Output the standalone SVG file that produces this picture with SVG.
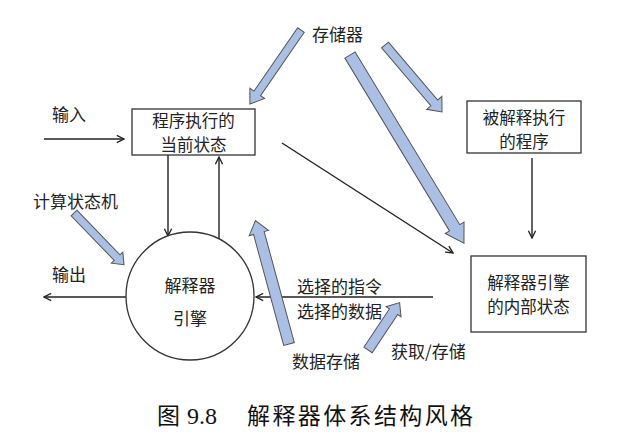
<svg xmlns="http://www.w3.org/2000/svg" width="629" height="438" viewBox="0 0 629 438">
<style>
.t{font-family:"Noto Sans CJK SC","Noto Sans",sans-serif;font-size:17px;fill:#222}
.b{font-size:16.5px}
.c{text-anchor:middle}
.box{fill:#fff;stroke:#333;stroke-width:1.3}
.ln{fill:none;stroke:#222;stroke-width:1.4}
.blk{fill:#a9c0e4;stroke:#555;stroke-width:1}
.cap{font-family:"Noto Sans CJK SC",sans-serif;font-size:23px;fill:#111}
</style>
<defs>
<marker id="ah" viewBox="0 0 10 10" refX="9" refY="5" markerWidth="9" markerHeight="9" markerUnits="userSpaceOnUse" orient="auto">
<path d="M1,1 L9,5 L1,9" fill="none" stroke="#222" stroke-width="1.5"/>
</marker>
</defs>
<g id="connectors">
<line class="ln" x1="44" y1="139" x2="124" y2="139" marker-end="url(#ah)"/>
<line class="ln" x1="168" y1="155" x2="168" y2="236" marker-end="url(#ah)"/>
<line class="ln" x1="219" y1="239" x2="219" y2="157" marker-end="url(#ah)"/>
<line class="ln" x1="126" y1="297" x2="44" y2="297" marker-end="url(#ah)"/>
<line class="ln" x1="282" y1="143" x2="453" y2="253" marker-end="url(#ah)"/>
<line class="ln" x1="532" y1="158" x2="532" y2="238" marker-end="url(#ah)"/>
<line class="ln" x1="433" y1="297" x2="256" y2="297" marker-end="url(#ah)"/>
<path class="blk" transform="translate(301,30) rotate(124.6)" d="M0,-4 L77,-4 L77,-9 L90,0 L77,9 L77,4 L0,4 Z"/>
<path class="blk" transform="translate(350,55) rotate(58.8)" d="M0,-6 L202,-6 L202,-11 L220,0 L202,11 L202,6 L0,6 Z"/>
<path class="blk" transform="translate(385,45) rotate(49.6)" d="M0,-4.5 L76,-4.5 L76,-10 L88,0 L76,10 L76,4.5 L0,4.5 Z"/>
<path class="blk" transform="translate(74,213) rotate(46)" d="M0,-4 L62,-4 L62,-8 L72,0 L62,8 L62,4 L0,4 Z"/>
<path class="blk" transform="translate(289,344) rotate(-105.2)" d="M0,-5.5 L115,-5.5 L115,-10 L128,0 L115,10 L115,5.5 L0,5.5 Z"/>
<path class="blk" transform="translate(368,350) rotate(-56.3)" d="M0,-5 L46,-5 L46,-9 L57,0 L46,9 L46,5 L0,5 Z"/>
</g>
<g id="current-state">
<rect class="box" x="132" y="109" width="123" height="46"/>
<text class="t b c" x="193.5" y="127">程序执行的</text>
<text class="t b c" x="193.5" y="151">当前状态</text>
</g>
<g id="program">
<rect class="box" x="467" y="101" width="114" height="52"/>
<text class="t b c" x="524" y="124">被解释执行</text>
<text class="t b c" x="524" y="148">的程序</text>
</g>
<g id="internal-state">
<rect class="box" x="471" y="256" width="115" height="76"/>
<text class="t b c" x="528.5" y="289">解释器引擎</text>
<text class="t b c" x="528.5" y="313">的内部状态</text>
</g>
<g id="engine">
<circle cx="190" cy="296" r="64" fill="#fff" stroke="#333" stroke-width="1.3"/>
<text class="t c" x="190" y="292">解释器</text>
<text class="t c" x="190" y="325">引擎</text>
</g>
<g id="labels">
<text class="t" x="312" y="41">存储器</text>
<text class="t" x="52" y="121">输入</text>
<text class="t" x="33" y="208">计算状态机</text>
<text class="t" x="52" y="281">输出</text>
<text class="t" x="297" y="293">选择的指令</text>
<text class="t" x="297" y="318">选择的数据</text>
<text class="t" x="292" y="368">数据存储</text>
<text class="t" x="391" y="358">获取/存储</text>
</g>
<g id="caption">
<text class="cap" x="157" y="424">图</text>
<text x="187" y="424" font-family="Liberation Serif,serif" font-size="24" fill="#111">9.8</text>
<text class="cap" x="247" y="424" textLength="226" lengthAdjust="spacing">解释器体系结构风格</text>
</g>
</svg>
